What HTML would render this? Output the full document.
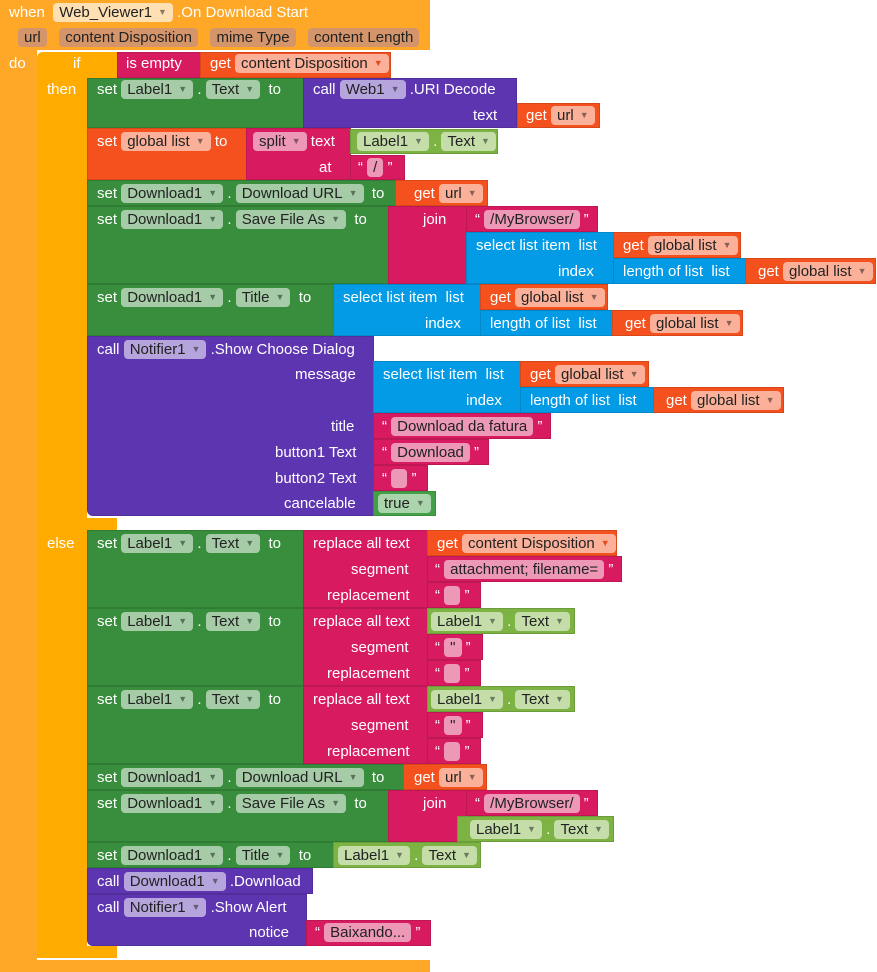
<!DOCTYPE html>
<html><head><meta charset="utf-8"><style>
body{margin:0;width:877px;height:972px;background:#fff;position:relative;overflow:hidden;font-family:"Liberation Sans",Arial,sans-serif;font-size:15px}
.b{position:absolute;box-sizing:border-box;border:1px solid rgba(0,0,0,.12)}
.t{position:absolute;color:#fff;white-space:nowrap;line-height:19px;height:19px}
.p{display:inline-block;background:rgba(255,255,255,.55);color:#222;border-radius:4px;padding:0 6px;line-height:19px}
.q{display:inline-block;background:#d4956b;color:#222;border-radius:4px;padding:0 6px;line-height:19px}
.a{font-size:9px;color:rgba(0,0,0,.45);margin-left:6px;vertical-align:2px}
.ev{background:#ffa726}.if{background:#ffab00}.g{background:#388e3c}.pu{background:#5e35b1}.m{background:#d81b60}.o{background:#f4511e}.bl{background:#039be5}.lg{background:#7cb342}.lo{background:#43a047}
</style></head><body>
<div class="b ev" style="left:0;top:0;width:430px;height:50px;border:none"></div>
<div class="b ev" style="left:0;top:0;width:37px;height:972px;border:none"></div>
<div class="b ev" style="left:0;top:960px;width:430px;height:12px;border:none"></div>
<div class="b if" style="left:37px;top:52px;width:80px;height:26px;border:none;border-radius:6px 0 0 0"></div>
<div class="b if" style="left:37px;top:52px;width:50px;height:906px;border:none;border-radius:6px 0 0 6px"></div>
<div class="b if" style="left:37px;top:518px;width:80px;height:12px;border:none"></div>
<div class="b if" style="left:37px;top:946px;width:80px;height:12px;border:none"></div>
<span class="t" style="left:9px;top:3px">when&nbsp; <span class="p" style="background:#ffe0b2">Web_Viewer1<span class="a">▼</span></span> .On Download Start</span>
<span class="t" style="left:18px;top:28px"><span class="q">url</span>&nbsp;&nbsp; <span class="q">content Disposition</span>&nbsp;&nbsp; <span class="q">mime Type</span>&nbsp;&nbsp; <span class="q">content Length</span></span>
<span class="t" style="left:9px;top:54px">do</span>
<span class="t" style="left:73px;top:54px">if</span>
<span class="t" style="left:47px;top:80px">then</span>
<span class="t" style="left:47px;top:534px">else</span>
<div class="b m" style="left:117px;top:52px;width:84px;height:26px"></div>
<span class="t" style="left:126px;top:54px">is empty</span>
<div class="b o" style="left:200px;top:52px;width:191px;height:26px"></div>
<span class="t" style="left:210px;top:54px">get <span class="p">content Disposition<span class="a" style="color:#e64a19">▼</span></span></span>

<div class="b g" style="left:87px;top:78px;width:217px;height:50px"></div>
<span class="t" style="left:97px;top:80px">set <span class="p">Label1<span class="a">▼</span></span> . <span class="p">Text<span class="a">▼</span></span>&nbsp; to</span>
<div class="b pu" style="left:303px;top:78px;width:214px;height:50px"></div>
<span class="t" style="left:313px;top:80px">call <span class="p">Web1<span class="a">▼</span></span> .URI Decode</span>
<span class="t" style="left:473px;top:106px">text</span>
<div class="b o" style="left:517px;top:103px;width:83px;height:25px"></div>
<span class="t" style="left:526px;top:106px">get <span class="p">url<span class="a">▼</span></span></span>

<div class="b o" style="left:87px;top:128px;width:160px;height:52px"></div>
<span class="t" style="left:97px;top:132px">set <span class="p">global list<span class="a">▼</span></span> to</span>
<div class="b m" style="left:246px;top:128px;width:105px;height:52px"></div>
<span class="t" style="left:253px;top:132px"><span class="p">split<span class="a">▼</span></span> text</span>
<span class="t" style="left:319px;top:158px">at</span>
<div class="b lg" style="left:350px;top:129px;width:148px;height:25px"></div>
<span class="t" style="left:357px;top:132px"><span class="p">Label1<span class="a">▼</span></span> . <span class="p">Text<span class="a">▼</span></span></span>
<div class="b m" style="left:350px;top:155px;width:55px;height:25px"></div>
<span class="t" style="left:358px;top:158px">“ <span class="p">/</span> ”</span>

<div class="b g" style="left:87px;top:180px;width:309px;height:26px"></div>
<span class="t" style="left:97px;top:184px">set <span class="p">Download1<span class="a">▼</span></span> . <span class="p">Download URL<span class="a">▼</span></span>&nbsp; to</span>
<div class="b o" style="left:395px;top:180px;width:93px;height:26px"></div>
<span class="t" style="left:414px;top:184px">get <span class="p">url<span class="a">▼</span></span></span>

<div class="b g" style="left:87px;top:206px;width:302px;height:78px"></div>
<span class="t" style="left:97px;top:210px">set <span class="p">Download1<span class="a">▼</span></span> . <span class="p">Save File As<span class="a">▼</span></span>&nbsp; to</span>
<div class="b m" style="left:388px;top:206px;width:79px;height:78px"></div>
<span class="t" style="left:423px;top:210px">join</span>
<div class="b m" style="left:466px;top:206px;width:132px;height:26px"></div>
<span class="t" style="left:475px;top:210px">“ <span class="p">/MyBrowser/</span> ”</span>
<div class="b bl" style="left:466px;top:232px;width:148px;height:52px"></div>
<span class="t" style="left:476px;top:236px">select list item&nbsp; list</span>
<span class="t" style="left:558px;top:262px">index</span>
<div class="b o" style="left:613px;top:232px;width:128px;height:26px"></div>
<span class="t" style="left:623px;top:236px">get <span class="p">global list<span class="a">▼</span></span></span>
<div class="b bl" style="left:613px;top:258px;width:133px;height:26px"></div>
<span class="t" style="left:623px;top:262px">length of list&nbsp; list</span>
<div class="b o" style="left:745px;top:258px;width:131px;height:26px"></div>
<span class="t" style="left:758px;top:262px">get <span class="p">global list<span class="a">▼</span></span></span>

<div class="b g" style="left:87px;top:284px;width:247px;height:52px"></div>
<span class="t" style="left:97px;top:288px">set <span class="p">Download1<span class="a">▼</span></span> . <span class="p">Title<span class="a">▼</span></span>&nbsp; to</span>
<div class="b bl" style="left:333px;top:284px;width:148px;height:52px"></div>
<span class="t" style="left:343px;top:288px">select list item&nbsp; list</span>
<span class="t" style="left:425px;top:314px">index</span>
<div class="b o" style="left:480px;top:284px;width:128px;height:26px"></div>
<span class="t" style="left:490px;top:288px">get <span class="p">global list<span class="a">▼</span></span></span>
<div class="b bl" style="left:480px;top:310px;width:133px;height:26px"></div>
<span class="t" style="left:490px;top:314px">length of list&nbsp; list</span>
<div class="b o" style="left:612px;top:310px;width:131px;height:26px"></div>
<span class="t" style="left:625px;top:314px">get <span class="p">global list<span class="a">▼</span></span></span>

<div class="b pu" style="left:87px;top:336px;width:287px;height:180px;border-radius:0 0 0 6px"></div>
<span class="t" style="left:97px;top:340px">call <span class="p">Notifier1<span class="a">▼</span></span> .Show Choose Dialog</span>
<span class="t" style="left:295px;top:365px">message</span>
<span class="t" style="left:331px;top:417px">title</span>
<span class="t" style="left:275px;top:443px">button1 Text</span>
<span class="t" style="left:275px;top:469px">button2 Text</span>
<span class="t" style="left:284px;top:494px">cancelable</span>
<div class="b bl" style="left:373px;top:361px;width:148px;height:52px"></div>
<span class="t" style="left:383px;top:365px">select list item&nbsp; list</span>
<span class="t" style="left:466px;top:391px">index</span>
<div class="b o" style="left:520px;top:361px;width:129px;height:26px"></div>
<span class="t" style="left:530px;top:365px">get <span class="p">global list<span class="a">▼</span></span></span>
<div class="b bl" style="left:520px;top:387px;width:134px;height:26px"></div>
<span class="t" style="left:530px;top:391px">length of list&nbsp; list</span>
<div class="b o" style="left:653px;top:387px;width:131px;height:26px"></div>
<span class="t" style="left:666px;top:391px">get <span class="p">global list<span class="a">▼</span></span></span>
<div class="b m" style="left:373px;top:413px;width:178px;height:26px"></div>
<span class="t" style="left:382px;top:417px">“ <span class="p">Download da fatura</span> ”</span>
<div class="b m" style="left:373px;top:439px;width:116px;height:26px"></div>
<span class="t" style="left:382px;top:443px">“ <span class="p">Download</span> ”</span>
<div class="b m" style="left:373px;top:465px;width:55px;height:26px"></div>
<span class="t" style="left:382px;top:469px">“ <span class="p">&nbsp;</span> ”</span>
<div class="b lo" style="left:373px;top:491px;width:63px;height:25px"></div>
<span class="t" style="left:378px;top:494px"><span class="p">true<span class="a">▼</span></span></span>

<div class="b g" style="left:87px;top:530px;width:217px;height:78px"></div>
<span class="t" style="left:97px;top:534px">set <span class="p">Label1<span class="a">▼</span></span> . <span class="p">Text<span class="a">▼</span></span>&nbsp; to</span>
<div class="b m" style="left:303px;top:530px;width:125px;height:78px"></div>
<span class="t" style="left:313px;top:534px">replace all text</span>
<span class="t" style="left:351px;top:560px">segment</span>
<span class="t" style="left:327px;top:586px">replacement</span>
<div class="b o" style="left:427px;top:530px;width:190px;height:26px"></div>
<span class="t" style="left:437px;top:534px">get <span class="p">content Disposition<span class="a" style="color:#e64a19">▼</span></span></span>
<div class="b m" style="left:427px;top:556px;width:195px;height:26px"></div>
<span class="t" style="left:435px;top:560px">“ <span class="p">attachment; filename=</span> ”</span>
<div class="b m" style="left:427px;top:582px;width:54px;height:26px"></div>
<span class="t" style="left:435px;top:586px">“ <span class="p">&nbsp;</span> ”</span>

<div class="b g" style="left:87px;top:608px;width:217px;height:78px"></div>
<span class="t" style="left:97px;top:612px">set <span class="p">Label1<span class="a">▼</span></span> . <span class="p">Text<span class="a">▼</span></span>&nbsp; to</span>
<div class="b m" style="left:303px;top:608px;width:125px;height:78px"></div>
<span class="t" style="left:313px;top:612px">replace all text</span>
<span class="t" style="left:351px;top:638px">segment</span>
<span class="t" style="left:327px;top:664px">replacement</span>
<div class="b lg" style="left:427px;top:608px;width:148px;height:26px"></div>
<span class="t" style="left:431px;top:612px"><span class="p">Label1<span class="a">▼</span></span> . <span class="p">Text<span class="a">▼</span></span></span>
<div class="b m" style="left:427px;top:634px;width:56px;height:26px"></div>
<span class="t" style="left:435px;top:638px">“ <span class="p">"</span> ”</span>
<div class="b m" style="left:427px;top:660px;width:54px;height:26px"></div>
<span class="t" style="left:435px;top:664px">“ <span class="p">&nbsp;</span> ”</span>

<div class="b g" style="left:87px;top:686px;width:217px;height:78px"></div>
<span class="t" style="left:97px;top:690px">set <span class="p">Label1<span class="a">▼</span></span> . <span class="p">Text<span class="a">▼</span></span>&nbsp; to</span>
<div class="b m" style="left:303px;top:686px;width:125px;height:78px"></div>
<span class="t" style="left:313px;top:690px">replace all text</span>
<span class="t" style="left:351px;top:716px">segment</span>
<span class="t" style="left:327px;top:742px">replacement</span>
<div class="b lg" style="left:427px;top:686px;width:148px;height:26px"></div>
<span class="t" style="left:431px;top:690px"><span class="p">Label1<span class="a">▼</span></span> . <span class="p">Text<span class="a">▼</span></span></span>
<div class="b m" style="left:427px;top:712px;width:56px;height:26px"></div>
<span class="t" style="left:435px;top:716px">“ <span class="p">"</span> ”</span>
<div class="b m" style="left:427px;top:738px;width:54px;height:26px"></div>
<span class="t" style="left:435px;top:742px">“ <span class="p">&nbsp;</span> ”</span>

<div class="b g" style="left:87px;top:764px;width:317px;height:26px"></div>
<span class="t" style="left:97px;top:768px">set <span class="p">Download1<span class="a">▼</span></span> . <span class="p">Download URL<span class="a">▼</span></span>&nbsp; to</span>
<div class="b o" style="left:403px;top:764px;width:84px;height:26px"></div>
<span class="t" style="left:414px;top:768px">get <span class="p">url<span class="a">▼</span></span></span>

<div class="b g" style="left:87px;top:790px;width:302px;height:52px"></div>
<span class="t" style="left:97px;top:794px">set <span class="p">Download1<span class="a">▼</span></span> . <span class="p">Save File As<span class="a">▼</span></span>&nbsp; to</span>
<div class="b m" style="left:388px;top:790px;width:79px;height:52px"></div>
<span class="t" style="left:423px;top:794px">join</span>
<div class="b m" style="left:466px;top:790px;width:132px;height:26px"></div>
<span class="t" style="left:475px;top:794px">“ <span class="p">/MyBrowser/</span> ”</span>
<div class="b lg" style="left:457px;top:816px;width:157px;height:26px"></div>
<span class="t" style="left:470px;top:820px"><span class="p">Label1<span class="a">▼</span></span> . <span class="p">Text<span class="a">▼</span></span></span>

<div class="b g" style="left:87px;top:842px;width:247px;height:26px"></div>
<span class="t" style="left:97px;top:846px">set <span class="p">Download1<span class="a">▼</span></span> . <span class="p">Title<span class="a">▼</span></span>&nbsp; to</span>
<div class="b lg" style="left:333px;top:842px;width:148px;height:26px"></div>
<span class="t" style="left:338px;top:846px"><span class="p">Label1<span class="a">▼</span></span> . <span class="p">Text<span class="a">▼</span></span></span>

<div class="b pu" style="left:87px;top:868px;width:226px;height:26px"></div>
<span class="t" style="left:97px;top:872px">call <span class="p">Download1<span class="a">▼</span></span> .Download</span>

<div class="b pu" style="left:87px;top:894px;width:220px;height:52px;border-radius:0 0 0 6px"></div>
<span class="t" style="left:97px;top:898px">call <span class="p">Notifier1<span class="a">▼</span></span> .Show Alert</span>
<span class="t" style="left:249px;top:923px">notice</span>
<div class="b m" style="left:306px;top:920px;width:125px;height:26px"></div>
<span class="t" style="left:315px;top:923px">“ <span class="p">Baixando...</span> ”</span>
</body></html>
